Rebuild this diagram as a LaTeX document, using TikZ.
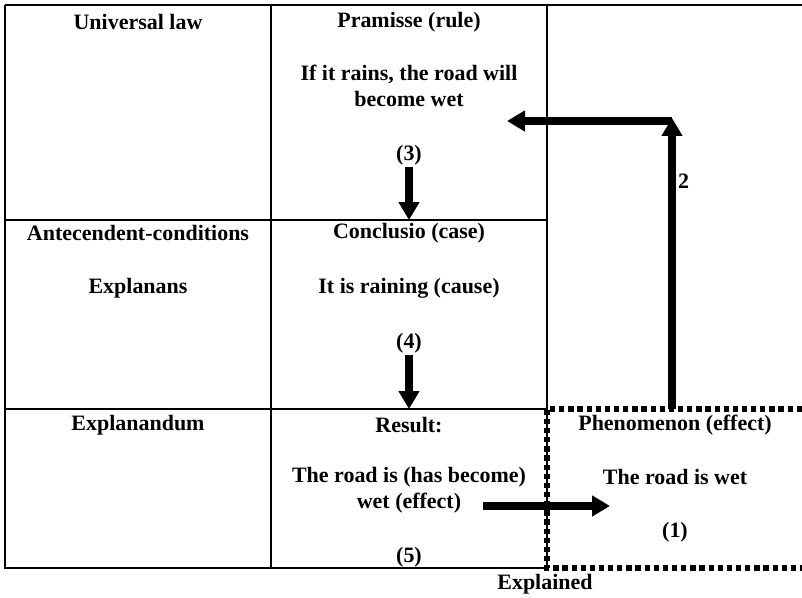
\documentclass[tikz,border=0pt]{standalone}
\usepackage{fontspec}
\setmainfont{Liberation Serif}
\usetikzlibrary{arrows.meta}

\tikzset{
  txt/.style={font=\fontsize{12.5}{15}\selectfont\bfseries, align=center, inner sep=1pt},
  grid/.style={line width=0.7pt},
  dotted box/.style={line width=3pt, dash pattern=on 3pt off 2.2pt},
  fat/.style={line width=0.155cm, -{Triangle[length=0.36cm,width=0.4cm]}}
}

\begin{document}
\begin{tikzpicture}[x=0.02cm, y=-0.02cm]
  \useasboundingbox (0,0) rectangle (802,598);
  % table lines
  \draw[grid] (5,5) -- (802,5);
  \draw[grid] (5,5) -- (5,568) -- (547,568);
  \draw[grid] (271,5) -- (271,568);
  \draw[grid] (547,5) -- (547,568);
  \draw[grid] (5,220) -- (547,220);
  \draw[grid] (5,409) -- (547,409);
  \draw[dotted box] (802,409) -- (547,409) -- (547,568) -- (802,568);
  % cell texts
  \foreach \name/\x/\y/\text in {
      law/138/22/{Universal law},
      premise/409/22/{Pramisse (rule)},
      rule/409/86/{If it rains, the road will\\become wet},
      n3/409/155/{(3)},
      antecedent/138/233/{Antecendent-conditions},
      conclusio/409/233/{Conclusio (case)},
      explanans/138/288/{Explanans},
      raining/409/288/{It is raining (cause)},
      n4/409/343/{(4)},
      explanandum/138/425/{Explanandum},
      result/409/425/{Result:},
      phenomenon/675/425/{Phenomenon (effect)},
      becomewet/409/490/{The road is (has become)\\wet (effect)},
      roadwet/675/477/{The road is wet},
      n1/675/532/{(1)},
      n5/409/557/{(5)},
      explained/545/584/{Explained}}
    \node[txt] (\name) at (\x,\y) {\text};
  \node[txt, anchor=west] (two) at (676,181) {2};
  % arrows
  \coordinate (row1) at (409,220);
  \coordinate (row2) at (409,409);
  \coordinate (foot) at (672,409);
  \coordinate (corner) at (672,118);
  \coordinate (bend) at (672,121);
  \coordinate (back) at (507,121);
  \coordinate (from) at (483,506);
  \coordinate (to) at (610,506);
  \draw[fat] (n3.south) -- (row1);
  \draw[fat] (n4.south) -- (row2);
  \draw[fat] (foot) -- (corner);
  \draw[fat] (bend) -- (back);
  \draw[fat] (from) -- (to);
\end{tikzpicture}
\end{document}
